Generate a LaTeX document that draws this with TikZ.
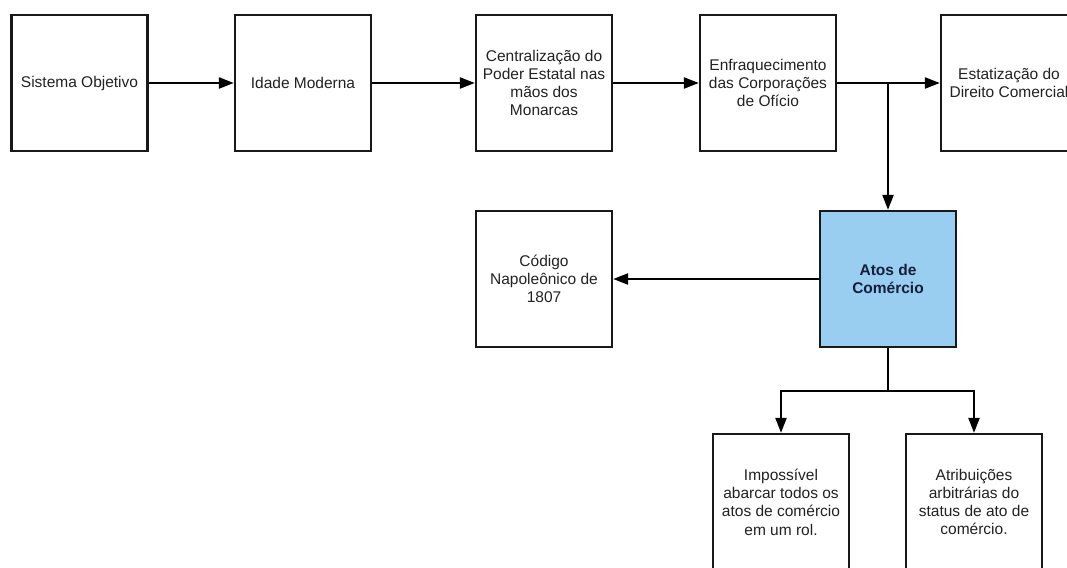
\documentclass[tikz,border=0pt]{standalone}
\usepackage{fontspec}
\setmainfont{Liberation Sans}
\usetikzlibrary{arrows.meta}
\definecolor{txt}{RGB}{34,34,34}
\definecolor{bluefill}{RGB}{153,206,240}
\definecolor{navy}{RGB}{22,30,60}
\begin{document}
\begin{tikzpicture}[x=1pt,y=-1pt,
  box/.style={draw=black!90, line width=2.3pt, minimum width=136pt, minimum height=136pt,
    inner sep=0pt, align=center, text=txt, font=\fontsize{15.5}{18.3}\selectfont},
  bluebox/.style={box, fill=bluefill, text=navy, font=\fontsize{15.5}{18.3}\selectfont\bfseries},
  arr/.style={line width=2.3pt, -{Triangle[length=15pt,width=11pt]}},
  ln/.style={line width=2.3pt}]
\clip (0,0) rectangle (1067,567);
\useasboundingbox (0,0) rectangle (1067,567);
\fill[white] (0,0) rectangle (1067,567);
\node[box] (b1) at (79.5,83) {Sistema Objetivo};
\node[box] (b2) at (303,83) {Idade Moderna};
\node[box] (b3) at (544,83) {Centralização do\\Poder Estatal nas\\mãos dos\\Monarcas};
\node[box] (b4) at (768,83) {Enfraquecimento\\das Corporações\\de Ofício};
\node[box] (b5) at (1009,83) {Estatização do\\Direito Comercial};
\node[box] (code) at (544,279) {Código\\Napoleônico de\\1807};
\node[bluebox] (blue) at (888,279) {Atos de\\Comércio};
\node[box] (imp) at (781,502) {Impossível\\abarcar todos os\\atos de comércio\\em um rol.};
\node[box] (atr) at (974,502) {Atribuições\\arbitrárias do\\status de ato de\\comércio.};
\draw[arr] (b1) -- (b2);
\draw[arr] (b2) -- (b3);
\draw[arr] (b3) -- (b4);
\draw[arr] (b4) -- (b5);
\draw[arr] (b4.east -| blue.north) -- (blue.north);
\draw[arr] (blue.west) -- (code.east);
\coordinate (split) at (888,391);
\draw[ln] (blue.south) -- (split);
\draw[arr] (split) -| (imp.north);
\draw[arr] (split) -| (atr.north);
\end{tikzpicture}
\end{document}
